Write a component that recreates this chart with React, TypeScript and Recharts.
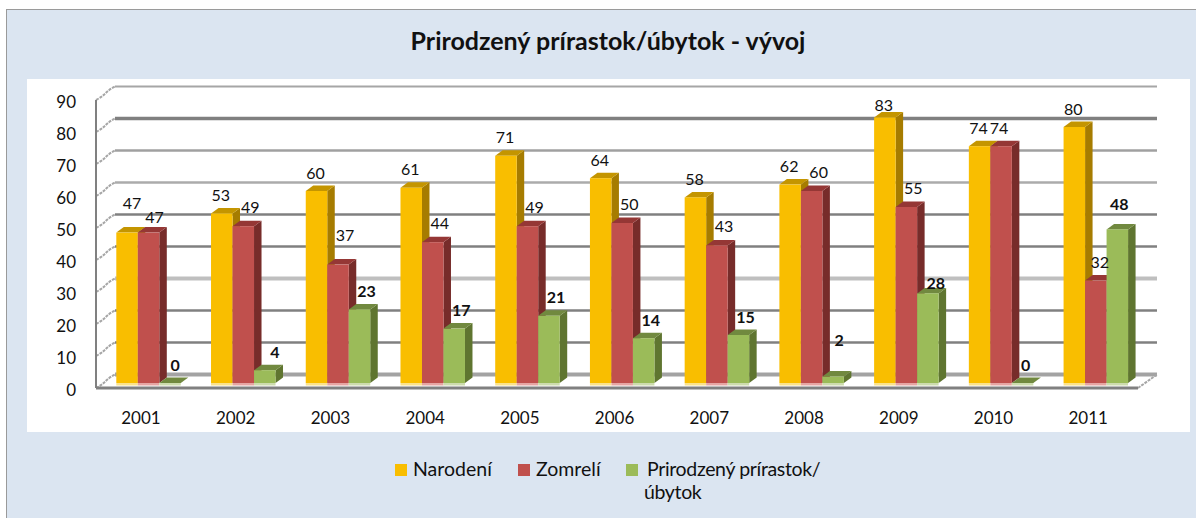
import { BarChart, Bar, XAxis, YAxis, CartesianGrid, Legend, LabelList } from 'recharts';

const years = ['2001', '2002', '2003', '2004', '2005', '2006', '2007', '2008', '2009', '2010', '2011'];
const born = [47, 53, 60, 61, 71, 64, 58, 62, 83, 74, 80];
const died = [47, 49, 37, 44, 49, 50, 43, 60, 55, 74, 32];
const change = [0, 4, 23, 17, 21, 14, 15, 2, 28, 0, 48];
const yTicks = [0, 10, 20, 30, 40, 50, 60, 70, 80, 90];

const chartData = years.map((year, i) => ({
  year,
  Narodení: born[i],
  Zomrelí: died[i],
  'Prirodzený prírastok/ úbytok': change[i]
}));

// fake 3d: how far the bars and the back wall sit behind the front axis
const BAR_LIFT = 5;
const BAR_SHIFT = 5.3;
const DEPTH_X = 7.5;
const DEPTH_Y = 5.5;
const WALL_X = 19;
const WALL_Y = 13.5;

const gridStyles = [
  { stroke: '#a3a3a3', width: 4 },
  { stroke: '#808080', width: 2.5 },
  { stroke: '#808080', width: 2.5 },
  { stroke: '#bfbfbf', width: 4 },
  { stroke: '#808080', width: 2.5 },
  { stroke: '#808080', width: 2.5 },
  { stroke: '#ababab', width: 2.5 },
  { stroke: '#a0a0a0', width: 2.5 },
  { stroke: '#808080', width: 3.5 },
  { stroke: '#a6a6a6', width: 2 }
];

const yellow = { front: '#f9be00', top: '#c49500', side: '#a67c00', base: '#fbe38c' };
const red = { front: '#c0504d', top: '#953735', side: '#772c2a', base: '#e6a5a3' };
const green = { front: '#9bbb59', top: '#71893f', side: '#5f7530', base: '#cddcae' };

// labels that Excel moved away from the usual spot, [dx, dy] per year
const bornNudge: Record<string, number[]> = { '2001': [6, -11], '2009': [0, 6] };
const diedNudge: Record<string, number[]> = { '2001': [-1, 4], '2003': [0, -10], '2010': [-9, 1], '2011': [-3, 1] };
const changeNudge: Record<string, number[]> = { '2001': [-2, 0], '2002': [3, 0], '2008': [-1, -18], '2009': [1, 8], '2010': [-4, 0], '2011': [-5, -7] };

function Bar3d(props: any) {
  const { x, y, width, height, colors } = props;
  const left = x + BAR_SHIFT;
  const right = left + width;
  const top = y - BAR_LIFT;
  const bottom = top + height;
  return (
    <g>
      <polygon
        points={`${right},${top} ${right + DEPTH_X},${top - DEPTH_Y} ${right + DEPTH_X},${bottom - DEPTH_Y} ${right},${bottom}`}
        fill={colors.side}
      />
      <polygon
        points={`${left},${top} ${left + DEPTH_X},${top - DEPTH_Y} ${right + DEPTH_X},${top - DEPTH_Y} ${right},${top}`}
        fill={colors.top}
      />
      <rect x={left} y={top} width={width} height={height} fill={colors.front} />
      <rect x={left} y={bottom} width={width} height={2.5} fill={colors.base} />
    </g>
  );
}

function makeLabel(baseDx: number, baseDy: number, nudges: Record<string, number[]>, bold: boolean) {
  return (props: any) => {
    const { x, y, width, value, index } = props;
    const nudge = nudges[years[index]] || [0, 0];
    return (
      <text
        x={x + width / 2 + BAR_SHIFT + baseDx + nudge[0]}
        y={y - BAR_LIFT + baseDy + nudge[1]}
        textAnchor="middle"
        dominantBaseline="central"
        fontFamily="Lato"
        fontSize={16}
        fontWeight={bold ? 700 : 400}
        fill="#111"
      >
        {value}
      </text>
    );
  };
}

function gridLine(props: any) {
  const { x1, x2, y1, index } = props;
  const style = gridStyles[index] || gridStyles[0];
  const backY = y1 - WALL_Y;
  const midX = x1 + WALL_X / 2;
  const midY = y1 - WALL_Y / 2;
  return (
    <g key={index}>
      <path
        d={`M${x1},${y1} Q${midX - 4},${midY + 4} ${midX},${midY} T${x1 + WALL_X},${backY}`}
        fill="none"
        stroke="#a6a6a6"
        strokeWidth={2}
        strokeDasharray="3 1"
      />
      <line x1={x1 + WALL_X} x2={x2 + WALL_X} y1={backY} y2={backY} stroke={style.stroke} strokeWidth={style.width} />
      {index === 0 && (
        <line x1={x2} x2={x2 + WALL_X} y1={y1} y2={backY} stroke="#a6a6a6" strokeWidth={2} strokeDasharray="3 1" />
      )}
    </g>
  );
}

function YearTick(props: any) {
  const { x, y, payload } = props;
  return (
    <text x={x - 2.4} y={y} textAnchor="middle" dominantBaseline="central" fontFamily="Lato" fontSize={17} fill="#111">
      {payload.value}
    </text>
  );
}

function ValueTick(props: any) {
  const { x, y, payload } = props;
  return (
    <text x={x} y={y + 1} textAnchor="end" dominantBaseline="central" fontFamily="Lato" fontSize={17} fill="#111">
      {payload.value}
    </text>
  );
}

function LegendRow({ payload }: any) {
  const slots = [395, 518, 626];
  return (
    <div style={{ position: 'relative', width: 460, height: 56, fontFamily: 'Lato', fontSize: 19.5, color: '#111' }}>
      {(payload || []).map((item: any, i: number) => {
        const wrapped = item.value.split(' ');
        const lines = i === 2 ? [wrapped.slice(0, 2).join(' '), wrapped[2]] : [item.value];
        return (
          <div key={item.value} style={{ position: 'absolute', left: slots[i] - 395, top: 0 }}>
            <span style={{ position: 'absolute', left: 0, top: 9, width: 12, height: 12, background: item.color }} />
            <div style={{ position: 'absolute', left: i === 2 ? 21 : 18, top: 2, whiteSpace: 'nowrap', lineHeight: '23px', letterSpacing: i === 2 ? -0.35 : 0 }}>
              {lines[0]}
              {lines[1] && <div style={{ marginLeft: -3 }}>{lines[1]}</div>}
            </div>
          </div>
        );
      })}
    </div>
  );
}

export default function App() {
  return (
    <div style={{ position: 'absolute', left: 0, top: 0, width: 1196, height: 518, background: '#fff', overflow: 'hidden' }}>
      <div
        style={{
          position: 'absolute',
          left: 6,
          top: 9,
          width: 1190,
          height: 509,
          boxSizing: 'border-box',
          background: '#dbe5f1',
          borderLeft: '1.5px solid #9a9a9a',
          borderTop: '1.5px solid #9a9a9a'
        }}
      />
      <div style={{ position: 'absolute', left: 27, top: 79, width: 1163, height: 353, background: '#fff' }} />
      <div
        style={{
          position: 'absolute',
          left: 0,
          width: 1216,
          top: 25,
          textAlign: 'center',
          fontFamily: 'Lato',
          fontWeight: 700,
          fontSize: 25,
          lineHeight: '30px',
          color: '#111'
        }}
      >
        Prirodzený prírastok/úbytok - vývoj
      </div>
      <div style={{ position: 'absolute', left: 0, top: 0 }}>
        <BarChart
          width={1196}
          height={518}
          data={chartData}
          barSize={21.5}
          barGap={0}
          margin={{ top: 100, right: 58, left: 0, bottom: 100 }}
        >
          <CartesianGrid vertical={false} horizontal={gridLine} />
          <XAxis
            dataKey="year"
            height={30}
            axisLine={{ stroke: '#808080', strokeWidth: 3 }}
            tickLine={false}
            tickSize={0}
            tickMargin={29}
            tick={<YearTick />}
          />
          <YAxis
            width={96}
            domain={[0, 90]}
            ticks={yTicks}
            interval={0}
            axisLine={{ stroke: '#808080', strokeWidth: 2 }}
            tickLine={false}
            tickSize={0}
            tickMargin={20}
            tick={<ValueTick />}
          />
          <Legend
            layout="vertical"
            align="center"
            verticalAlign="middle"
            itemSorter={null}
            wrapperStyle={{ left: 395, top: 455, width: 460 }}
            content={<LegendRow />}
          />
          <Bar dataKey="Narodení" fill={yellow.front} isAnimationActive={false} shape={<Bar3d colors={yellow} />}>
            <LabelList dataKey="Narodení" content={makeLabel(-1, -19, bornNudge, false)} />
          </Bar>
          <Bar dataKey="Zomrelí" fill={red.front} isAnimationActive={false} shape={<Bar3d colors={red} />}>
            <LabelList dataKey="Zomrelí" content={makeLabel(7, -20, diedNudge, false)} />
          </Bar>
          <Bar
            dataKey="Prirodzený prírastok/ úbytok"
            fill={green.front}
            isAnimationActive={false}
            shape={<Bar3d colors={green} />}
          >
            <LabelList dataKey="Prirodzený prírastok/ úbytok" content={makeLabel(7, -19, changeNudge, true)} />
          </Bar>
        </BarChart>
      </div>
    </div>
  );
}
